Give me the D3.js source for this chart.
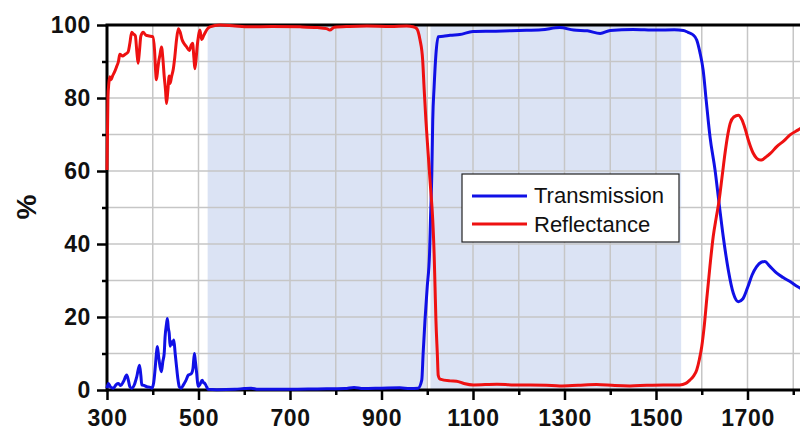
<!DOCTYPE html>
<html>
<head>
<meta charset="utf-8">
<script src="https://cdn.jsdelivr.net/npm/d3@7"></script>
<style>
  body { margin: 0; background: #fff; }
  svg { display: block; }
</style>
</head>
<body>
<div id="chart-area"></div>
<script>
// transmission / reflectance spectrum

var transmission = [
  [300,0.5],[303,1.8],[308,0.8],[314,0.5],[320,1.5],[325,1.8],[330,1.2],[336,2.3],[343,4.1],[347,2.5],
  [350,0.9],[354,0.5],[360,1.5],[365,3.6],[371,6.8],[374,4],[376,1.4],[382,1.2],[387,0.9],[393,0.8],
  [398,0.5],[402,2],[405,5.5],[408,10],[410,11.9],[413,9],[416,6.4],[419,5],[422,7.8],[425,10],
  [427,14.6],[430,18],[432,19.6],[434,17],[436,15.5],[438,12],[441,13.2],[444,12.5],[446,13.7],[449,10],
  [452,6.4],[455,3],[458,0.9],[462,0.5],[467,1.4],[472,2.5],[478,4.1],[482,4.3],[485,4.6],[488,6],
  [491,10],[493,8],[496,4.6],[499,1],[503,1.5],[508,2.7],[511,2],[514,1.8],[518,0.8],[521,0.2],
  [540,0.1],[580,0.2],[600,0.4],[615,0.5],[630,0.2],[700,0.2],[760,0.3],[820,0.4],[840,0.7],[860,0.4],
  [900,0.5],[940,0.6],[962,0.4],[980,0.5],[988,2.7],[991,10],[995,19],[1000,28.3],[1005,37.4],[1007,46.6],
  [1010,59.4],[1012,74],[1015,83],[1019,92],[1024,96.8],[1035,96.9],[1050,97.2],[1071,97.4],[1100,98.2],[1150,98.3],
  [1200,98.5],[1250,98.7],[1290,99.3],[1320,98.6],[1350,98.4],[1378,97.7],[1400,98.5],[1450,98.8],[1500,98.6],[1540,98.7],
  [1560,98.5],[1570,98],[1580,97.4],[1589,95.9],[1596,92.5],[1603,87.7],[1610,79],[1618,69.4],[1629,60.3],[1638,51],
  [1647,42],[1658,32.9],[1669,26.5],[1680,24.2],[1690,25],[1700,28],[1710,31.5],[1720,33.8],[1730,35],[1738,35.2],
  [1748,34],[1764,32],[1778,30.8],[1793,29.7],[1810,28.3],[1825,27.3]
];

var reflectance = [
  [300,60.3],[302,80],[304,84],[306,85.8],[309,85],[312,86],[316,87],[321,88.6],[325,90],[328,92],
  [334,91.5],[340,92],[346,92.6],[350,95],[354,98],[358,97.5],[362,97],[365,93],[368,89.5],[371,93],
  [374,97],[379,98],[385,97.2],[392,97],[400,96.8],[404,93],[406,88],[408,85],[411,88],[413,90],
  [416,92],[419,94],[422,91],[425,86],[428,82],[430,78.5],[433,82],[436,86],[438,84],[441,85.8],
  [445,88],[448,91],[452,96],[456,99],[460,98],[464,96],[468,95],[474,94],[480,93],[484,94.5],
  [487,95],[490,91],[492,88],[495,91],[497,94],[500,97],[503,98.6],[507,96],[511,97],[515,98],
  [520,99],[525,99.5],[547,100],[580,99.7],[612,99.5],[660,99.6],[722,99.5],[760,99.3],[780,99],[787,98.6],
  [797,99.4],[830,99.6],[868,99.7],[920,99.6],[955,99.7],[969,99.5],[977,99],[984,96],[990,90.4],[993,83],
  [997,74],[1002,64.8],[1007,55.7],[1012,46.6],[1015,37.4],[1017,28.3],[1019,19],[1022,10],[1024,4],[1028,3],
  [1050,2.5],[1064,2.4],[1080,1.8],[1101,1.4],[1152,1.6],[1190,1.4],[1225,1.4],[1260,1.3],[1290,1.1],[1330,1.3],
  [1370,1.5],[1410,1.2],[1443,1.1],[1480,1.3],[1516,1.4],[1552,1.4],[1565,1.8],[1574,2.7],[1582,3.8],[1589,5.5],
  [1595,8.5],[1600,11.9],[1605,17],[1611,25],[1618,34],[1625,42],[1632,47.5],[1638,52],[1645,59],[1651,65],
  [1657,70],[1662,73],[1670,74.8],[1680,75.3],[1688,74],[1695,71.5],[1703,68],[1712,65],[1720,63.5],[1728,63],
  [1734,63.2],[1742,64],[1750,64.8],[1764,66.7],[1780,68.3],[1793,69.9],[1810,71.2],[1825,72.3]
];

// shaded wavelength bands
var bands = [[520, 998], [1007, 1555]];

var xLabels = [300, 500, 700, 900, 1100, 1300, 1500, 1700];
var xMinor = [400, 600, 800, 1000, 1200, 1400, 1600, 1800];
var yLabels = [0, 20, 40, 60, 80, 100];
var yMinor = [10, 30, 50, 70, 90];

var legendItems = [
  { name: "Transmission", color: "#1010e6" },
  { name: "Reflectance", color: "#ee1111" }
];

var width = 800, height = 432;
var plotLeft = 107, plotTop = 25, plotBottom = 390;

var svg = d3.select("#chart-area")
    .append("svg")
    .attr("width", width)
    .attr("height", height);

var x = d3.scaleLinear()
    .domain([300, 1900])
    .range([plotLeft, plotLeft + 1600 * 0.4575]);

var y = d3.scaleLinear()
    .domain([0, 100])
    .range([plotBottom, plotTop]);

// bands
svg.selectAll("rect.band")
    .data(bands)
  .enter().append("rect")
    .attr("class", "band")
    .attr("x", function(d) { return x(d[0]); })
    .attr("width", function(d) { return x(d[1]) - x(d[0]); })
    .attr("y", y(100))
    .attr("height", y(0) - y(100))
    .attr("fill", "#dbe3f4");

// grid
var gx = d3.range(300, 1901, 100), gy = d3.range(10, 100, 10);
svg.append("g").selectAll("line")
    .data(gx)
  .enter().append("line")
    .attr("x1", function(d) { return x(d); })
    .attr("x2", function(d) { return x(d); })
    .attr("y1", y(0))
    .attr("y2", y(100))
    .attr("stroke", "#c6c6c6")
    .attr("stroke-width", 1.5);

svg.append("g").selectAll("line")
    .data(gy)
  .enter().append("line")
    .attr("x1", plotLeft)
    .attr("x2", width)
    .attr("y1", function(d) { return y(d); })
    .attr("y2", function(d) { return y(d); })
    .attr("stroke", "#c6c6c6")
    .attr("stroke-width", 1.5);

// axes
function styleAxis(g) {
  g.select(".domain").remove();
  g.selectAll(".tick line").attr("stroke", "#000").attr("stroke-width", 2.5);
  g.selectAll(".tick text")
    .attr("fill", "#111")
    .style("font-family", "'Liberation Sans', Arial, sans-serif")
    .style("font-weight", "bold")
    .style("font-size", "23px")
    .style("letter-spacing", "0.6px");
}

svg.append("g")
    .attr("transform", "translate(0," + plotBottom + ")")
    .call(d3.axisBottom(x).tickValues(xLabels).tickSize(10).tickPadding(10).tickFormat(d3.format("d")))
    .call(styleAxis);

svg.append("g")
    .attr("transform", "translate(0," + plotBottom + ")")
    .call(d3.axisBottom(x).tickValues(xMinor).tickSize(5).tickFormat(""))
    .call(styleAxis);

svg.append("g")
    .attr("transform", "translate(" + plotLeft + ",0)")
    .call(d3.axisLeft(y).tickValues(yLabels).tickSize(10).tickPadding(6).tickFormat(d3.format("d")))
    .call(styleAxis);

svg.append("g")
    .attr("transform", "translate(" + plotLeft + ",0)")
    .call(d3.axisLeft(y).tickValues(yMinor).tickSize(5).tickFormat(""))
    .call(styleAxis);

// frame lines
svg.append("line")
    .attr("x1", plotLeft).attr("x2", width)
    .attr("y1", y(0)).attr("y2", y(0))
    .attr("stroke", "#000").attr("stroke-width", 3);
svg.append("line")
    .attr("x1", plotLeft - 1.5).attr("x2", width)
    .attr("y1", y(100)).attr("y2", y(100))
    .attr("stroke", "#000").attr("stroke-width", 3);
svg.append("line")
    .attr("x1", plotLeft).attr("x2", plotLeft)
    .attr("y1", y(100)).attr("y2", y(0) + 1.5)
    .attr("stroke", "#000").attr("stroke-width", 3);

svg.append("text")
    .attr("transform", "translate(36,207) rotate(-90)")
    .attr("text-anchor", "middle")
    .style("font-family", "'Liberation Sans', Arial, sans-serif")
    .style("font-weight", "bold")
    .style("font-size", "28px")
    .attr("fill", "#111")
    .text("%");

// curves
var line = d3.line()
    .x(function(d) { return x(d[0]); })
    .y(function(d) { return y(d[1]); })
    .curve(d3.curveMonotoneX);

[transmission, reflectance].forEach(function(data, i) {
  svg.append("path")
      .datum(data)
      .attr("fill", "none")
      .attr("stroke", legendItems[i].color)
      .attr("stroke-width", 3)
      .attr("stroke-linejoin", "round")
      .attr("d", line);
});

// legend
var legend = svg.append("g").attr("transform", "translate(462,174)");
legend.append("rect")
    .attr("width", 217)
    .attr("height", 68)
    .attr("fill", "#fff")
    .attr("stroke", "#222")
    .attr("stroke-width", 1.2);

legendItems.forEach(function(item, i) {
  legend.append("line")
      .attr("x1", 10).attr("x2", 65)
      .attr("y1", 22 + i * 28).attr("y2", 22 + i * 28)
      .attr("stroke", item.color)
      .attr("stroke-width", 3);
  legend.append("text")
      .attr("x", 72)
      .attr("y", 29 + i * 29)
      .style("font-family", "'Liberation Sans', Arial, sans-serif")
      .style("font-size", "22px")
      .attr("fill", "#111")
      .text(item.name);
});
</script>
</body>
</html>
